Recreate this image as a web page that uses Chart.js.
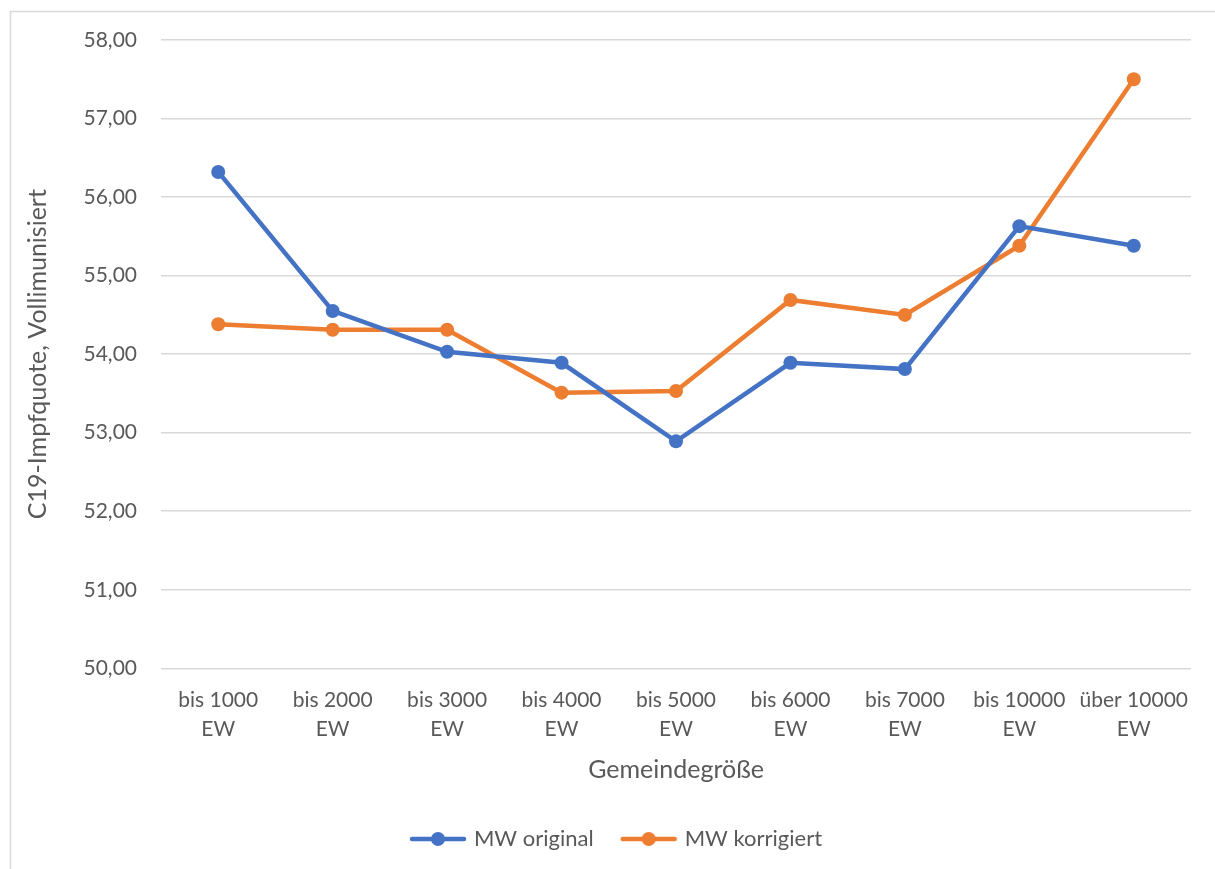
<!DOCTYPE html>
<html lang="de">
<head>
<meta charset="utf-8">
<title>C19-Impfquote nach Gemeindegröße</title>
<script src="https://cdn.jsdelivr.net/npm/chart.js@4/dist/chart.umd.min.js"></script>
<style>
  html, body { margin: 0; padding: 0; background: #ffffff; }
  #wrap { width: 1215px; height: 869px; position: relative; }
</style>
</head>
<body>
<div id="wrap"><canvas id="chart"></canvas></div>
<script>
// Gemeindegrößenklassen (zweizeilige Achsenbeschriftung)
const categories = [
  ['bis 1000', 'EW'], ['bis 2000', 'EW'], ['bis 3000', 'EW'],
  ['bis 4000', 'EW'], ['bis 5000', 'EW'], ['bis 6000', 'EW'],
  ['bis 7000', 'EW'], ['bis 10000', 'EW'], ['über 10000', 'EW']
];

// Mittelwerte der Impfquote (Vollimmunisierung) in Prozent
const mwOriginal   = [56.32, 54.55, 54.03, 53.89, 52.89, 53.89, 53.81, 55.63, 55.38];
const mwKorrigiert = [54.38, 54.31, 54.31, 53.51, 53.53, 54.69, 54.50, 55.38, 57.50];

const seriesNames = ['MW original', 'MW korrigiert'];
const yTicks = [50, 51, 52, 53, 54, 55, 56, 57, 58];

const BLUE = '#4472C4';
const ORANGE = '#ED7D31';
const TEXT = '#595959';
const GRID = '#d9d9d9';
const FONT = 'Lato, "Open Sans", sans-serif';

// Legend marker: short line with a dot in the middle
function legendMarker(color) {
  const c = document.createElement('canvas');
  c.width = 58; c.height = 16;
  const g = c.getContext('2d');
  g.strokeStyle = color;
  g.lineWidth = 4.5;
  g.lineCap = 'round';
  g.beginPath(); g.moveTo(3, 8); g.lineTo(55, 8); g.stroke();
  g.fillStyle = color;
  g.beginPath(); g.arc(29, 8, 7, 0, Math.PI * 2); g.fill();
  return c;
}

// Light frame around the whole chart object
const framePlugin = {
  id: 'frame',
  beforeDraw(chart) {
    const ctx = chart.ctx;
    ctx.save();
    ctx.strokeStyle = GRID;
    ctx.lineWidth = 1.5;
    ctx.strokeRect(10.5, 11.5, chart.width + 20, chart.height + 20);
    ctx.restore();
  }
};

// Center the legend under the plot area rather than the padded canvas
const legendShift = {
  id: 'legendShift',
  afterLayout(chart) {
    const lg = chart.legend;
    if (lg) { lg.left += 12; lg.right += 12; }
  }
};

const fmt = v => v.toFixed(2).replace('.', ',');

new Chart(document.getElementById('chart'), {
  type: 'line',
  data: {
    labels: categories,
    datasets: [
      {
        label: seriesNames[0],
        data: mwOriginal,
        borderColor: BLUE,
        backgroundColor: BLUE,
        borderWidth: 4.5,
        pointRadius: 7,
        pointHoverRadius: 7,
        pointBorderWidth: 0,
        tension: 0
      },
      {
        label: seriesNames[1],
        data: mwKorrigiert,
        borderColor: ORANGE,
        backgroundColor: ORANGE,
        borderWidth: 4.5,
        pointRadius: 7,
        pointHoverRadius: 7,
        pointBorderWidth: 0,
        tension: 0
      }
    ]
  },
  options: {
    responsive: true,
    maintainAspectRatio: false,
    animation: false,
    layout: { padding: { left: 20, right: 24, top: 40, bottom: 9 } },
    plugins: {
      tooltip: { enabled: false },
      legend: {
        position: 'bottom',
        labels: {
          color: TEXT,
          font: { family: FONT, size: 22 },
          usePointStyle: true,
          pointStyleWidth: 50,
          boxHeight: 16,
          padding: 30,
          generateLabels(chart) {
            const items = Chart.defaults.plugins.legend.labels.generateLabels(chart);
            items.forEach((it, i) => {
              it.pointStyle = legendMarker(chart.data.datasets[i].borderColor);
            });
            return items;
          }
        }
      }
    },
    scales: {
      x: {
        offset: true,
        grid: { display: false },
        border: { display: false },
        ticks: {
          color: TEXT,
          font: { family: FONT, size: 21, lineHeight: 1.35 },
          maxRotation: 0,
          autoSkip: false,
          padding: 10
        },
        title: {
          display: true,
          text: 'Gemeindegröße',
          color: TEXT,
          font: { family: FONT, size: 25 },
          padding: { top: 2, bottom: 13 }
        }
      },
      y: {
        min: yTicks[0],
        max: yTicks[yTicks.length - 1],
        afterBuildTicks(scale) {
          scale.ticks = yTicks.map(v => ({ value: v }));
        },
        afterFit(scale) { scale.width = 141; },
        grid: { color: GRID, lineWidth: 1.5, drawTicks: false },
        border: { display: false },
        ticks: {
          color: TEXT,
          font: { family: FONT, size: 21 },
          padding: 24,
          callback: v => fmt(v)
        },
        title: {
          display: true,
          text: 'C19-Impfquote, Vollimunisiert',
          color: TEXT,
          font: { family: FONT, size: 25 },
          padding: { top: 3, bottom: 4 }
        }
      }
    }
  },
  plugins: [framePlugin, legendShift]
});
</script>
</body>
</html>
